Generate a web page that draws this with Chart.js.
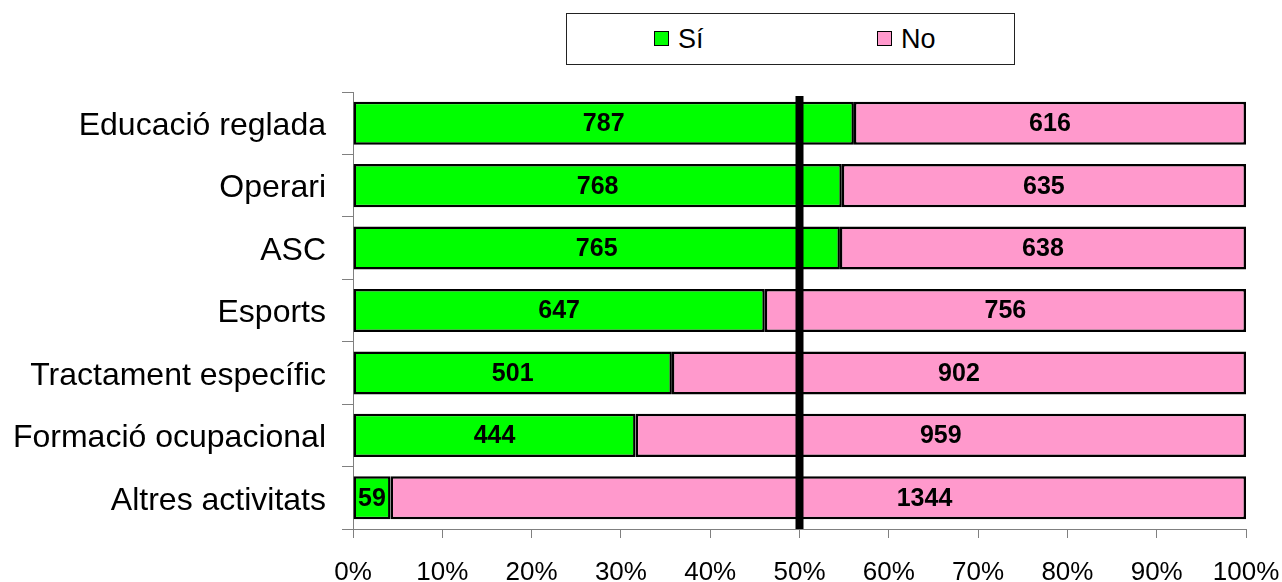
<!DOCTYPE html>
<html>
<head>
<meta charset="utf-8">
<script src="https://cdn.jsdelivr.net/npm/chart.js@4/dist/chart.umd.min.js"></script>
<style>
  html, body { margin: 0; padding: 0; background: #fff; }
  #wrap { position: relative; width: 1282px; height: 582px; }
  #c { position: absolute; left: 0; top: 0; }
  #legend {
    position: absolute; left: 566px; top: 13px; width: 447px; height: 50px;
    border: 1px solid #222; background: #fff;
    font-family: "Liberation Sans", Arial, sans-serif; font-size: 27px; color: #000;
  }
  .item { position: absolute; top: 0; height: 50px; line-height: 50px; white-space: nowrap; }
  .sw { display: inline-block; width: 13px; height: 13px; border: 1.5px solid #000; margin-right: 9px; vertical-align: middle; position: relative; top: -2px; }
</style>
</head>
<body>
<div id="wrap">
  <canvas id="c" width="1282" height="582"></canvas>
  <div id="legend">
    <div class="item" style="left:87px"><span class="sw" style="background:#00FF00"></span>Sí</div>
    <div class="item" style="left:310px"><span class="sw" style="background:#FF99CC"></span>No</div>
  </div>
</div>
<script>
const categories = ["Educació reglada", "Operari", "ASC", "Esports", "Tractament específic", "Formació ocupacional", "Altres activitats"];
const siValues = [787, 768, 765, 647, 501, 444, 59];
const noValues = [616, 635, 638, 756, 902, 959, 1344];
const seriesNames = ["Sí", "No"];
const xTickLabels = ["0%", "10%", "20%", "30%", "40%", "50%", "60%", "70%", "80%", "90%", "100%"];
const markerValue = 50;

const totals = siValues.map((v, i) => v + noValues[i]);
const siPct = siValues.map((v, i) => v / totals[i] * 100);
const noPct = noValues.map((v, i) => v / totals[i] * 100);
const rawCounts = [siValues, noValues];

const FONT = '"Liberation Sans", Arial, sans-serif';

const overlay = {
  id: 'overlay',
  afterDatasetsDraw(chart) {
    const ctx = chart.ctx;
    const xs = chart.scales.x;
    const area = chart.chartArea;
    const xm = xs.getPixelForValue(markerValue);
    ctx.save();
    ctx.fillStyle = '#000';
    ctx.fillRect(xm - 4, area.top + 4, 8, area.bottom - area.top - 4);
    ctx.restore();
    ctx.save();
    ctx.font = 'bold 25px ' + FONT;
    ctx.fillStyle = '#000';
    ctx.textAlign = 'center';
    ctx.textBaseline = 'middle';
    chart.data.datasets.forEach((ds, di) => {
      const meta = chart.getDatasetMeta(di);
      meta.data.forEach((bar, i) => {
        const p = bar.getProps(['x', 'y', 'base'], true);
        const txt = String(rawCounts[di][i]);
        let cx = (p.x + p.base) / 2;
        const w = ctx.measureText(txt).width;
        // keep labels clear of the 50% marker line (moved right, as in the original)
        if (Math.abs(cx - xm) < w / 2 + 8) cx = xm + (p.x - xm) * 0.28;
        ctx.fillText(txt, cx, p.y + 1);
      });
    });
    ctx.restore();
  }
};

new Chart(document.getElementById('c'), {
  type: 'bar',
  data: {
    labels: categories,
    datasets: [
      { label: seriesNames[0], data: siPct, backgroundColor: '#00FF00', borderColor: '#000', borderWidth: 2.5, borderSkipped: false, barPercentage: 0.69, categoryPercentage: 1 },
      { label: seriesNames[1], data: noPct, backgroundColor: '#FF99CC', borderColor: '#000', borderWidth: 2.5, borderSkipped: false, barPercentage: 0.69, categoryPercentage: 1 }
    ]
  },
  options: {
    indexAxis: 'y',
    responsive: false,
    animation: false,
    devicePixelRatio: 1,
    layout: { padding: { top: 92, right: 36, left: 0, bottom: 0 } },
    plugins: { legend: { display: false }, tooltip: { enabled: false } },
    scales: {
      x: {
        stacked: true,
        min: 0, max: 100,
        afterBuildTicks(scale) { scale.ticks = xTickLabels.map((t, i) => ({ value: i * 10 })); },
        ticks: {
          callback: (v, i) => xTickLabels[i],
          font: { family: FONT, size: 26 },
          color: '#000',
          padding: 19,
          maxRotation: 0, autoSkip: false
        },
        grid: { drawOnChartArea: false, drawTicks: true, tickLength: 9, color: '#808080' },
        border: { display: true, color: '#808080', width: 1 },
        afterFit(scale) { scale.height = 53; scale.paddingLeft = 0; scale.paddingRight = 0; }
      },
      y: {
        stacked: true,
        ticks: {
          font: { family: FONT, size: 32 },
          color: '#000',
          padding: 16,
          labelOffset: 3,
          autoSkip: false
        },
        grid: { drawOnChartArea: false, drawTicks: true, tickLength: 11, color: '#808080', offset: true },
        border: { display: true, color: '#808080', width: 1 },
        afterFit(scale) { scale.width = 353; scale.paddingTop = 0; scale.paddingBottom = 0; }
      }
    }
  },
  plugins: [overlay]
});
</script>
</body>
</html>
